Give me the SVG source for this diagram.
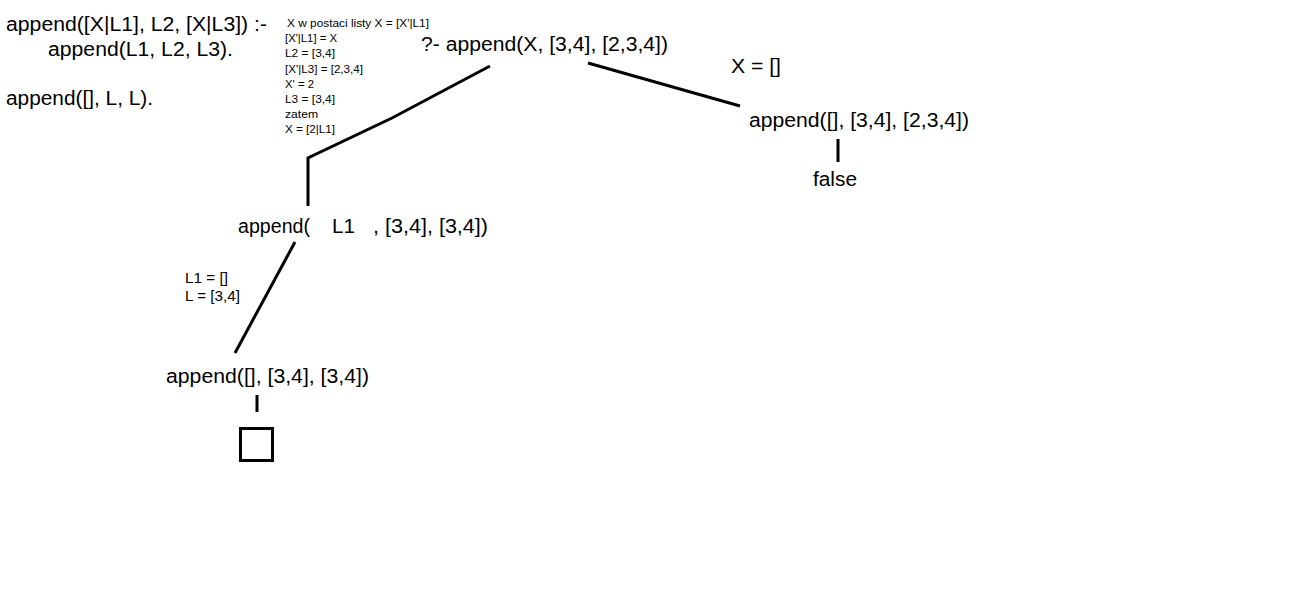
<svg xmlns="http://www.w3.org/2000/svg" width="1300" height="600" viewBox="0 0 1300 600">
<style>
.t{font-family:"Liberation Sans",Arial,sans-serif;font-size:20px;fill:#000}
.s{font-family:"Liberation Sans",Arial,sans-serif;font-size:11.5px;fill:#000}
.m{font-family:"Liberation Sans",Arial,sans-serif;font-size:15px;fill:#000}
.l{stroke:#000;stroke-width:3;fill:none;stroke-linecap:butt}
</style>
<rect width="1300" height="600" fill="#fff"/>
<g id="program">
<text class="t" x="6" y="31" textLength="261" lengthAdjust="spacingAndGlyphs">append([X|L1], L2, [X|L3]) :-</text>
<text class="t" x="48" y="56" textLength="185" lengthAdjust="spacingAndGlyphs">append(L1, L2, L3).</text>
<text class="t" x="6" y="105" textLength="147" lengthAdjust="spacingAndGlyphs">append([], L, L).</text>
</g>
<g id="notes">
<text class="s" x="287" y="27" textLength="142" lengthAdjust="spacingAndGlyphs">X w postaci listy X = [X'|L1]</text>
<text class="s" x="285" y="42" textLength="52" lengthAdjust="spacingAndGlyphs">[X'|L1] = X</text>
<text class="s" x="285" y="57" textLength="50" lengthAdjust="spacingAndGlyphs">L2 = [3,4]</text>
<text class="s" x="285" y="73" textLength="78" lengthAdjust="spacingAndGlyphs">[X'|L3] = [2,3,4]</text>
<text class="s" x="285" y="88" textLength="29" lengthAdjust="spacingAndGlyphs">X' = 2</text>
<text class="s" x="285" y="103" textLength="50" lengthAdjust="spacingAndGlyphs">L3 = [3,4]</text>
<text class="s" x="285" y="118" textLength="33" lengthAdjust="spacingAndGlyphs">zatem</text>
<text class="s" x="285" y="133" textLength="50" lengthAdjust="spacingAndGlyphs">X = [2|L1]</text>
</g>
<g id="root"><text class="t" x="421" y="51" textLength="247" lengthAdjust="spacingAndGlyphs">?- append(X, [3,4], [2,3,4])</text></g>
<g id="label-right"><text class="t" x="731" y="73" textLength="50" lengthAdjust="spacingAndGlyphs">X = []</text></g>
<g id="right"><text class="t" x="749" y="127" textLength="220" lengthAdjust="spacingAndGlyphs">append([], [3,4], [2,3,4])</text></g>
<g id="false"><text class="t" x="813" y="186" textLength="44" lengthAdjust="spacingAndGlyphs">false</text></g>
<g id="mid">
<text class="t" x="238" y="233" textLength="72" lengthAdjust="spacingAndGlyphs">append(</text>
<text class="t" x="332" y="233" textLength="23" lengthAdjust="spacingAndGlyphs">L1</text>
<text class="t" x="373" y="233" textLength="115" lengthAdjust="spacingAndGlyphs">, [3,4], [3,4])</text>
</g>
<g id="label-left">
<text class="m" x="185" y="283" textLength="43" lengthAdjust="spacingAndGlyphs">L1 = []</text>
<text class="m" x="185" y="301" textLength="55" lengthAdjust="spacingAndGlyphs">L = [3,4]</text>
</g>
<g id="bottom"><text class="t" x="166" y="383" textLength="203" lengthAdjust="spacingAndGlyphs">append([], [3,4], [3,4])</text></g>
<g id="empty"><rect x="240.5" y="428.5" width="32" height="32" class="l"/></g>
<g id="connectors">
<polyline class="l" points="490,66 392,118 308,158 308,206"/>
<line class="l" x1="588" y1="63" x2="740" y2="106"/>
<line class="l" x1="838" y1="139" x2="838" y2="162"/>
<line class="l" x1="295" y1="242" x2="235" y2="353"/>
<line class="l" x1="257" y1="395" x2="257" y2="412"/>
</g>
</svg>
